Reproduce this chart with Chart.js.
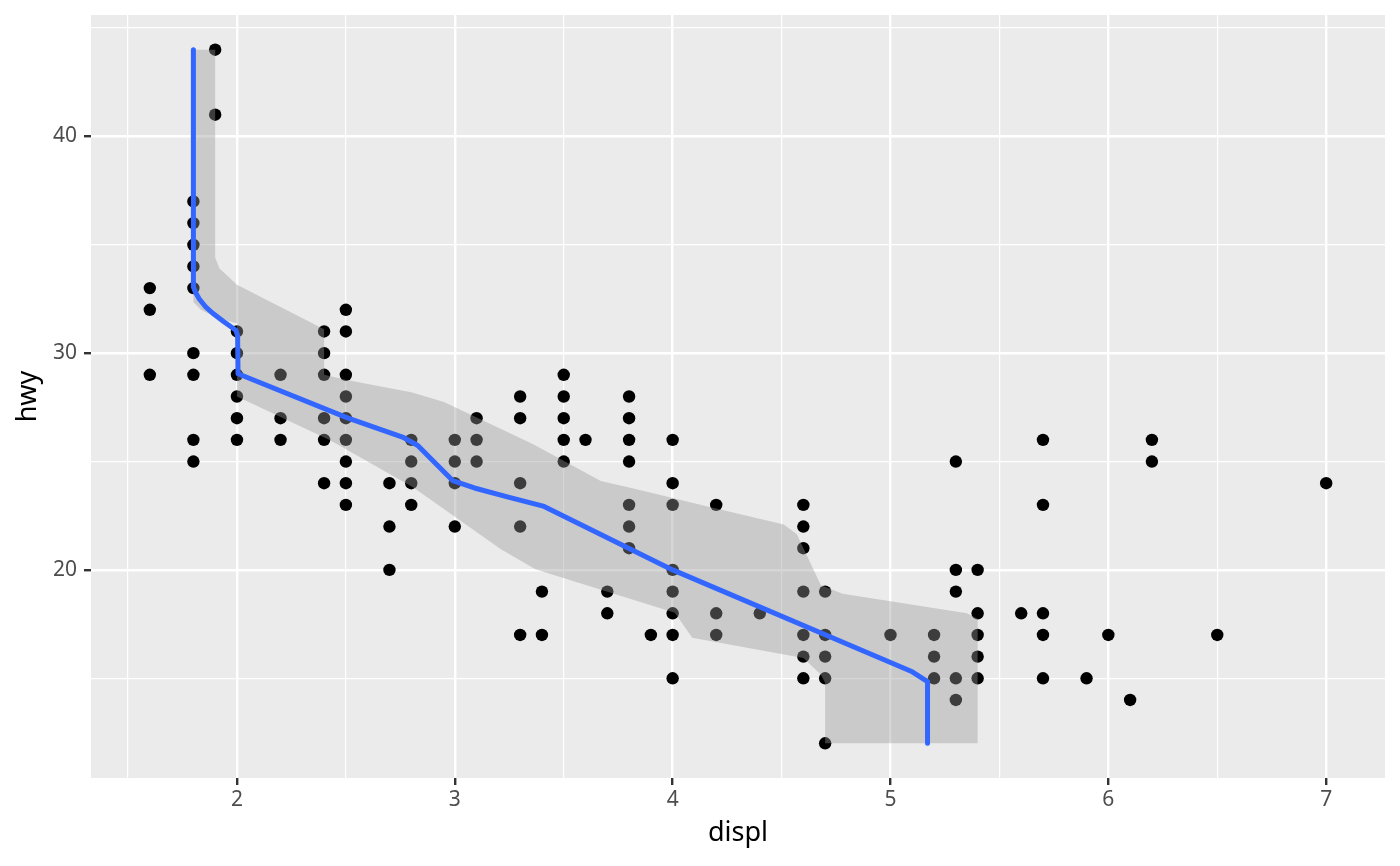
<!DOCTYPE html>
<html>
<head>
    <meta charset='utf-8'>
    <title>hwy vs displ</title>
    <script src='https://cdn.jsdelivr.net/npm/chart.js@4.4.1/dist/chart.umd.min.js'></script>
    <style>
        html, body { margin: 0; padding: 0; background: #fff; }
        #wrap { width: 1400px; height: 866px; }
    </style>
</head>
<body>
<div id="wrap"><canvas id="myChart" width="1400" height="866"></canvas></div>
<script>
// observed points: hwy values for each displ
const displValues = [1.6, 1.8, 1.9, 2.0, 2.2, 2.4, 2.5, 2.7, 2.8, 3.0, 3.1, 3.3, 3.4, 3.5, 3.6, 3.7, 3.8, 3.9,
                     4.0, 4.2, 4.4, 4.6, 4.7, 5.0, 5.2, 5.3, 5.4, 5.6, 5.7, 5.9, 6.0, 6.1, 6.2, 6.5, 7.0];
const hwyByDispl = [
    [33, 32, 29],
    [37, 36, 35, 34, 33, 30, 29, 26, 25],
    [44, 41],
    [31, 30, 29, 28, 27, 26],
    [29, 27, 26],
    [31, 30, 29, 27, 26, 24],
    [32, 31, 29, 28, 27, 26, 25, 24, 23],
    [24, 22, 20],
    [26, 25, 24, 23],
    [26, 25, 24, 22],
    [27, 26, 25],
    [28, 27, 24, 22, 17],
    [19, 17],
    [29, 28, 27, 26, 25],
    [26],
    [19, 18],
    [28, 27, 26, 25, 23, 22, 21],
    [17],
    [26, 24, 23, 20, 19, 18, 17, 15],
    [23, 18, 17],
    [18],
    [23, 22, 21, 19, 17, 16, 15],
    [19, 17, 16, 15, 12],
    [17],
    [17, 16, 15],
    [25, 20, 19, 15, 14],
    [20, 18, 17, 16, 15],
    [18],
    [26, 23, 18, 17, 15],
    [15],
    [17],
    [14],
    [26, 25],
    [17],
    [24]
];

// smooth (displ as function of hwy)
const fitDispl = [1.80, 1.80, 1.81, 1.827, 1.855, 1.889, 1.94, 1.995, 2.003, 2.005, 2.51, 2.76, 2.83, 2.99,
                  3.09, 3.25, 3.41, 4.00, 5.10, 5.17, 5.17];
const fitHwy = [44, 33.05, 32.8, 32.5, 32.15, 31.84, 31.45, 31.06, 30.8, 29.05, 27.0, 26.13, 25.74, 24.12,
                23.78, 23.35, 22.93, 20.0, 15.3, 14.85, 12];

// confidence band: upper displ edge and lower displ edge
const bandHighDispl = [1.90, 1.90, 1.92, 2.00, 2.40, 2.40, 2.51, 2.80, 2.95, 3.36, 3.67, 3.82, 4.17, 4.51,
                       4.57, 4.68, 4.78, 5.35, 5.40, 5.40];
const bandHighHwy = [44, 34.4, 33.9, 33.15, 31.1, 29.0, 28.75, 28.2, 27.75, 25.8, 24.1, 23.75, 22.9, 22.1,
                     21.65, 19.3, 18.9, 18.0, 17.75, 12];
const bandLowDispl = [1.80, 1.80, 1.835, 1.896, 2.00, 2.00, 2.43, 2.81, 3.21, 3.37, 4.01, 4.09, 4.60, 4.68,
                      4.70, 4.70];
const bandLowHwy = [44, 32.35, 32.0, 31.68, 31.37, 28.0, 25.97, 23.8, 20.96, 20.03, 18.02, 16.87, 15.94,
                    15.17, 14.8, 12];

const xTicks = [1.5, 2, 2.5, 3, 3.5, 4, 4.5, 5, 5.5, 6, 6.5, 7];
const xMajor = [2, 3, 4, 5, 6, 7];
const yTicks = [15, 20, 25, 30, 35, 40, 45];
const yMajor = [20, 30, 40];

const points = [];
displValues.forEach((d, i) => {
    hwyByDispl[i].forEach(h => points.push({x: d, y: h}));
});

const fitLine = fitDispl.map((d, i) => ({x: d, y: fitHwy[i]}));

const band = bandHighDispl.map((d, i) => ({x: d, y: bandHighHwy[i]}));
for (let i = bandLowDispl.length - 1; i >= 0; i--) {
    band.push({x: bandLowDispl[i], y: bandLowHwy[i]});
}

const panelBg = {
    id: 'panelBg',
    beforeDraw(chart) {
        const {ctx, chartArea: a} = chart;
        ctx.save();
        ctx.fillStyle = '#ffffff';
        ctx.fillRect(0, 0, chart.width, chart.height);
        ctx.fillStyle = '#EBEBEB';
        ctx.fillRect(a.left, a.top, a.right - a.left, a.bottom - a.top);
        ctx.restore();
    }
};

const isMajor = (list, v) => list.some(m => Math.abs(m - v) < 1e-9);

function gridFor(major) {
    return {
        color: '#ffffff',
        lineWidth: c => (c.tick && isMajor(major, c.tick.value)) ? 2.4 : 1.2,
        drawTicks: true,
        tickLength: 7,
        tickWidth: 2.4,
        tickColor: c => (c.tick && isMajor(major, c.tick.value)) ? '#333333' : 'rgba(0,0,0,0)'
    };
}

const ctx = document.getElementById('myChart').getContext('2d');
const myChart = new Chart(ctx, {
    type: 'line',
    data: {
        datasets: [{
            label: 'points',
            data: points,
            showLine: false,
            pointRadius: 6.2,
            pointBorderWidth: 0,
            pointBackgroundColor: '#000000',
            pointBorderColor: '#000000',
            order: 3
        }, {
            label: 'band',
            data: band,
            showLine: true,
            borderWidth: 0,
            borderColor: 'rgba(0,0,0,0)',
            backgroundColor: 'rgba(153,153,153,0.4)',
            pointRadius: 0,
            tension: 0,
            fill: 'shape',
            order: 2
        }, {
            label: 'fit',
            data: fitLine,
            showLine: true,
            borderColor: '#3366FF',
            borderWidth: 5,
            pointRadius: 0,
            tension: 0,
            fill: false,
            borderJoinStyle: 'round',
            order: 1
        }]
    },
    options: {
        responsive: false,
        animation: false,
        events: [],
        layout: { padding: {top: 15, right: 15, left: 0, bottom: 0} },
        plugins: {
            legend: { display: false },
            tooltip: { enabled: false }
        },
        scales: {
            x: {
                type: 'linear',
                min: 1.33,
                max: 7.27,
                afterBuildTicks: s => { s.ticks = xTicks.map(v => ({value: v})); },
                afterFit: s => { s.height = 88; s.paddingLeft = 0; s.paddingRight = 0; },
                border: { display: false },
                grid: gridFor(xMajor),
                ticks: {
                    autoSkip: false,
                    maxRotation: 0,
                    padding: 2,
                    color: '#4D4D4D',
                    font: { family: 'Noto Sans', size: 21 },
                    callback: v => isMajor(xMajor, v) ? String(v) : ''
                },
                title: {
                    display: true,
                    text: 'displ',
                    color: '#000000',
                    font: { family: 'Noto Sans', size: 27 },
                    padding: { top: 0, bottom: 16 }
                }
            },
            y: {
                type: 'linear',
                min: 10.4,
                max: 45.6,
                afterBuildTicks: s => { s.ticks = yTicks.map(v => ({value: v})); },
                afterFit: s => { s.width = 91; s.paddingTop = 0; s.paddingBottom = 0; },
                border: { display: false },
                grid: gridFor(yMajor),
                ticks: {
                    autoSkip: false,
                    padding: 7,
                    color: '#4D4D4D',
                    font: { family: 'Noto Sans', size: 21 },
                    callback: v => isMajor(yMajor, v) ? String(v) : ''
                },
                title: {
                    display: true,
                    text: 'hwy',
                    color: '#000000',
                    font: { family: 'Noto Sans', size: 27 },
                    padding: { top: 12, bottom: 0 }
                }
            }
        }
    },
    plugins: [panelBg]
});
</script>
</body>
</html>
